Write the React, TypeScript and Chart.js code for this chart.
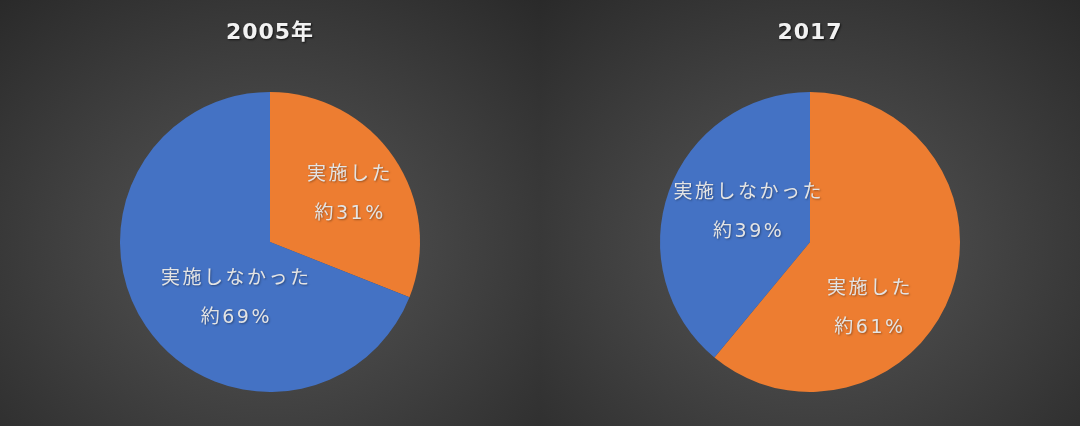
import React, { useEffect, useRef } from "react";
import { Chart, registerables } from "chart.js";

Chart.register(...registerables);

// Survey results: share of respondents who did / did not carry it out
const years = ["2005年", "2017"];
const categories = ["実施した", "実施しなかった"];
const values2005 = [31, 69];
const values2017 = [61, 39];
const valueLabels2005 = ["約31%", "約69%"];
const valueLabels2017 = ["約61%", "約39%"];

const sliceColors = ["#ED7D31", "#4472C4"];

// Where each slice's label sits: angle clockwise from 12 o'clock (deg) and fraction of radius
const labelPlacement2005 = [
  { angle: 57.7, frac: 0.62 },
  { angle: 213, frac: 0.43 },
];
const labelPlacement2017 = [
  { angle: 137.8, frac: 0.58 },
  { angle: 297, frac: 0.47 },
];

const FONT = '"DejaVu Sans", "Noto Sans CJK JP", sans-serif';

type Placement = { angle: number; frac: number };

function makePanelPlugin(title: string, valueLabels: string[], placement: Placement[]) {
  return {
    id: "panelText",
    afterDatasetsDraw(chart: any) {
      const ctx = chart.ctx as CanvasRenderingContext2D;
      const meta = chart.getDatasetMeta(0);
      ctx.save();
      // Title
      ctx.font = `bold 22px ${FONT}`;
      (ctx as any).letterSpacing = "1px";
      ctx.textAlign = "center";
      ctx.textBaseline = "middle";
      ctx.shadowColor = "rgba(0,0,0,0.7)";
      ctx.shadowOffsetX = 1;
      ctx.shadowOffsetY = 1;
      ctx.shadowBlur = 2;
      ctx.fillStyle = "#f2f2f2";
      ctx.fillText(title, chart.width / 2, 33);

      // Slice labels
      ctx.font = `19px ${FONT}`;
      (ctx as any).letterSpacing = "2.5px";
      ctx.shadowColor = "rgba(0,0,0,0.35)";
      ctx.fillStyle = "#e4e4e4";
      meta.data.forEach((arc: any, i: number) => {
        const p = placement[i];
        const a = (p.angle * Math.PI) / 180;
        const r = arc.outerRadius * p.frac;
        const cx = arc.x + Math.sin(a) * r;
        const cy = arc.y - Math.cos(a) * r + 2.5;
        ctx.fillText(categories[i], cx + 1.5, cy - 19.5);
        ctx.fillText(valueLabels[i], cx + 1.5, cy + 19.5);
      });
      ctx.restore();
    },
  };
}

function PiePanel(props: { title: string; values: number[]; valueLabels: string[]; placement: Placement[] }) {
  const ref = useRef<HTMLCanvasElement>(null);
  useEffect(() => {
    if (!ref.current) return;
    const chart = new Chart(ref.current, {
      type: "pie",
      data: {
        labels: categories,
        datasets: [
          {
            data: props.values,
            backgroundColor: sliceColors,
            borderWidth: 0,
          },
        ],
      },
      options: {
        responsive: false,
        animation: false,
        layout: { padding: { top: 92, bottom: 34, left: 0, right: 0 } },
        plugins: {
          legend: { display: false },
          tooltip: { enabled: false },
          title: { display: false },
        },
      },
      plugins: [makePanelPlugin(props.title, props.valueLabels, props.placement)],
    });
    return () => chart.destroy();
  }, []);
  return (
    <div
      style={{
        position: "absolute",
        top: 0,
        width: 540,
        height: 426,
        background: "radial-gradient(ellipse 75% 80% at 50% 58%, #575757 0%, #3e3e3e 55%, #292929 100%)",
      }}
    >
      <canvas ref={ref} width={540} height={426} style={{ display: "block" }} />
    </div>
  );
}

export default function App() {
  useEffect(() => {
    document.body.style.margin = "0";
  }, []);
  return (
    <div style={{ position: "fixed", left: 0, top: 0, width: 1080, height: 426, background: "#2a2a2a", overflow: "hidden" }}>
      <div style={{ position: "absolute", left: 0, top: 0 }}>
        <PiePanel title={years[0]} values={values2005} valueLabels={valueLabels2005} placement={labelPlacement2005} />
      </div>
      <div style={{ position: "absolute", left: 540, top: 0 }}>
        <PiePanel title={years[1]} values={values2017} valueLabels={valueLabels2017} placement={labelPlacement2017} />
      </div>
    </div>
  );
}
